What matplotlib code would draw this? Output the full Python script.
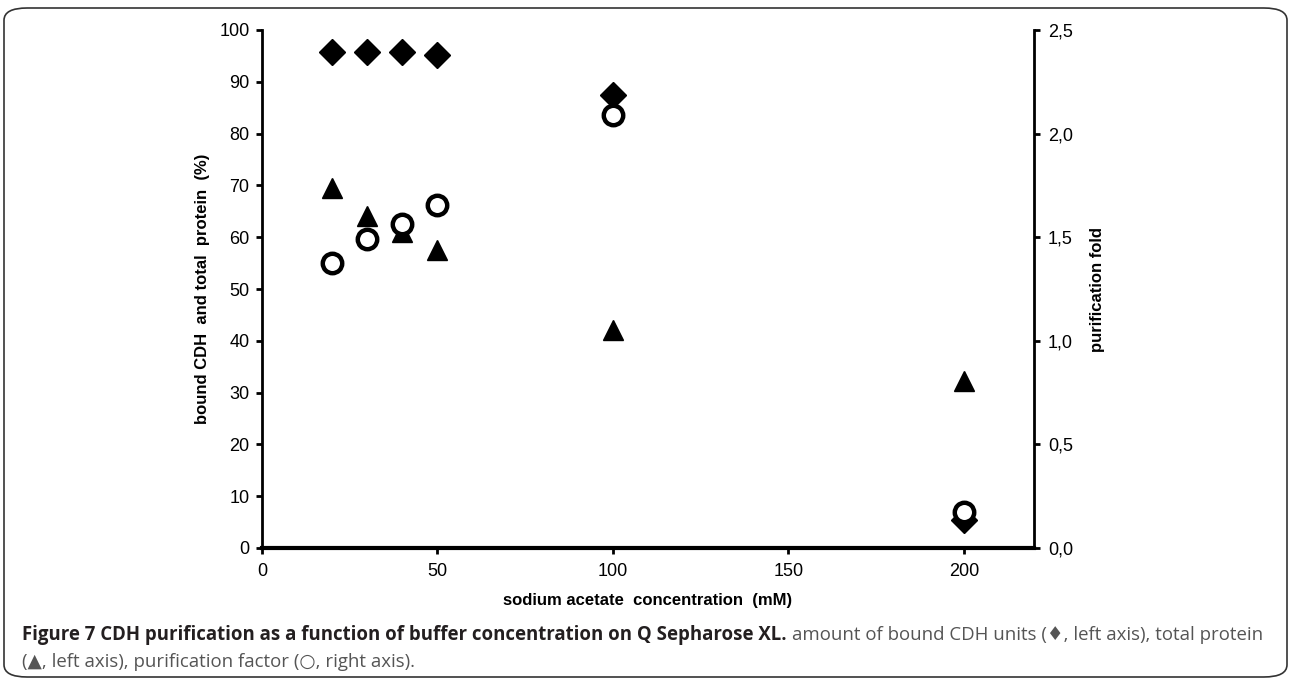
import matplotlib
matplotlib.use("Agg")
import matplotlib.pyplot as plt
from matplotlib.patches import FancyBboxPatch
from matplotlib.ticker import FuncFormatter

# sodium acetate concentration (mM)
conc = [20, 30, 40, 50, 100, 200]
# bound CDH units (%), left axis
bound_cdh = [95.7, 95.7, 95.8, 95.2, 87.5, 5.5]
# total protein (%), left axis
total_protein = [69.5, 64.0, 61.0, 57.5, 42.0, 32.2]
# purification fold, right axis
purif_fold = [1.375, 1.49, 1.565, 1.655, 2.09, 0.175]

plt.rcParams['font.family'] = ['Liberation Sans', 'DejaVu Sans']

W, H = 1289, 679
fig = plt.figure(figsize=(W / 100, H / 100), dpi=100)
ax = fig.add_axes([262 / W, 1 - 548 / H, (1034 - 262) / W, (548 - 30) / H])
ax2 = ax.twinx()

ax.plot(conc, bound_cdh, linestyle='none', marker='D', markersize=13, color='black')
ax.plot(conc, total_protein, linestyle='none', marker='^', markersize=15, color='black')
ax2.plot(conc, purif_fold, linestyle='none', marker='o', markersize=14,
         markerfacecolor='white', markeredgecolor='black', markeredgewidth=3.2)

ax.set_xlim(0, 220)
ax.set_ylim(0, 100)
ax2.set_ylim(0, 2.5)
ax.set_xticks([0, 50, 100, 150, 200])
ax.set_yticks(range(0, 101, 10))
ax2.set_yticks([0, 0.5, 1.0, 1.5, 2.0, 2.5])
ax2.yaxis.set_major_formatter(FuncFormatter(lambda v, p: ("%.1f" % v).replace('.', ',')))

for a in (ax, ax2):
    a.spines['top'].set_visible(False)
    a.tick_params(labelsize=13, width=2, length=4, direction='out')
ax.spines['left'].set_linewidth(2)
ax.spines['bottom'].set_linewidth(3)
ax.spines['right'].set_visible(False)
ax2.spines['right'].set_linewidth(2)
ax2.spines['left'].set_visible(False)
ax2.spines['bottom'].set_visible(False)
ax.tick_params(axis='x', pad=7)
ax.tick_params(axis='y', pad=5)
ax2.tick_params(axis='y', pad=6)

ax.set_xlabel("sodium acetate  concentration  (mM)", fontsize=12, fontweight='bold', labelpad=9)
ax.set_ylabel("bound CDH  and total  protein  (%)", fontsize=12, fontweight='bold', labelpad=7)
ax2.set_ylabel("purification fold", fontsize=12, fontweight='bold', labelpad=12)

# rounded frame around the figure panel
frame = FancyBboxPatch((4 / W, 1 - 677 / H), 1283 / W, 669 / H,
                       boxstyle="round,pad=0,rounding_size=0.018",
                       transform=fig.transFigure, fill=False, edgecolor='#333333', linewidth=1.2)
fig.patches.append(frame)

cap_font = ['Open Sans', 'DejaVu Sans']
cap_size = 13.4
t1 = fig.text(22 / W, 1 - 635 / H, "Figure 7 CDH purification as a function of buffer concentration on Q Sepharose XL.",
              fontsize=cap_size, fontweight='bold', family=cap_font, color='#231f20', va='center')
fig.canvas.draw()
bb = t1.get_window_extent()
fig.text((bb.x1 + 5) / W, 1 - 635 / H,
         "amount of bound CDH units (\u2666, left axis), total protein",
         fontsize=cap_size, family=cap_font, color='#555555', va='center')
fig.text(22 / W, 1 - 662 / H, "(\u25b2, left axis), purification factor (\u25cb, right axis).",
         fontsize=cap_size, family=cap_font, color='#555555', va='center')

fig.savefig("out.png", dpi=100)
